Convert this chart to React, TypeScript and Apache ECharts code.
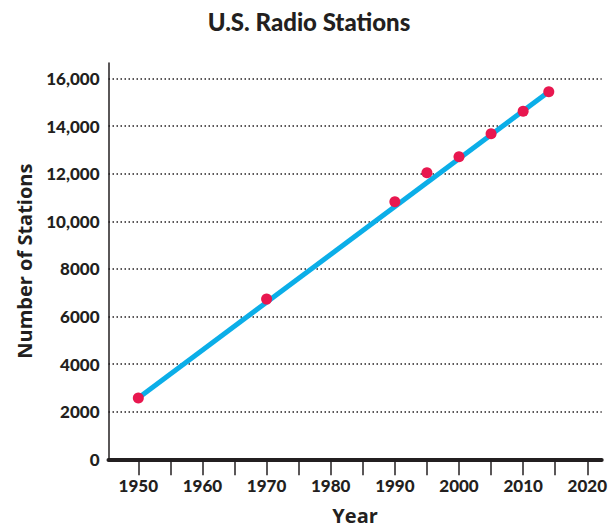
import React, { useEffect, useRef } from "react";
import * as echarts from "echarts";

const years = [1950, 1970, 1990, 1995, 2000, 2005, 2010, 2014];
const stations = [2575, 6730, 10820, 12040, 12710, 13680, 14620, 15440];
const trendYears = [1950, 2014];
const trendValues = [2575, 15440];
const xTickValues = [1950, 1955, 1960, 1965, 1970, 1975, 1980, 1985, 1990, 1995, 2000, 2005, 2010, 2015, 2020];
const xLabelValues = [1950, 1960, 1970, 1980, 1990, 2000, 2010, 2020];

const FONT = "Lato";
const NAME_FONT = "Open Sans";
const INK = "#231F20";

export default function App() {
  const ref = useRef<HTMLDivElement>(null);
  useEffect(() => {
    if (!ref.current) return;
    const chart = echarts.init(ref.current, undefined, { renderer: "svg" });
    chart.setOption({
      animation: false,
      backgroundColor: "#ffffff",
      title: {
        text: "U.S. Radio Stations",
        left: 304,
        textAlign: "center",
        top: 4,
        textStyle: { fontFamily: FONT, fontWeight: 900, fontSize: 24, color: INK },
      },
      grid: { left: 108.5, right: 10.3, top: 63, bottom: 69.7, containLabel: false, outerBoundsMode: "none" },
      xAxis: {
        type: "value",
        min: 1945.35,
        max: 2022.25,
        name: "Year",
        nameLocation: "middle",
        nameGap: 46,
        nameMoveOverlap: false,
        nameTextStyle: { fontFamily: NAME_FONT, fontWeight: 700, fontSize: 20, color: INK },
        axisLine: { show: true, onZero: false, lineStyle: { color: INK, width: 4 } },
        axisTick: { show: true, inside: false, length: 16, customValues: xTickValues, lineStyle: { color: INK, width: 1.5 } },
        axisLabel: {
          customValues: xLabelValues,
          margin: 18,
          fontFamily: FONT,
          fontWeight: 900,
          fontSize: 17,
          color: INK,
          formatter: (v: number) => String(v),
        },
        splitLine: { show: false },
      },
      yAxis: {
        type: "value",
        min: 0,
        max: 16650,
        interval: 2000,
        name: "Number of Stations",
        nameLocation: "middle",
        nameGap: 74,
        nameMoveOverlap: false,
        nameRotate: 90,
        nameTextStyle: { fontFamily: NAME_FONT, fontWeight: 700, fontSize: 20, color: INK },
        axisLine: { show: true, lineStyle: { color: INK, width: 1.5 } },
        axisTick: { show: false },
        axisLabel: {
          margin: 9,
          showMaxLabel: false,
          fontFamily: FONT,
          fontWeight: 900,
          fontSize: 17,
          color: INK,
          formatter: (v: number) => (v >= 10000 ? v.toLocaleString("en-US") : String(v)),
        },
        splitLine: {
          show: true,
          showMinLine: false,
          showMaxLine: false,
          lineStyle: { color: INK, width: 1.5, type: [1.5, 2.5] },
        },
      },
      series: [
        {
          type: "line",
          data: trendYears.map((y, i) => [y, trendValues[i]]),
          showSymbol: false,
          symbol: "none",
          lineStyle: { color: "#0BAEE8", width: 5 },
          z: 2,
        },
        {
          type: "scatter",
          data: years.map((y, i) => [y, stations[i]]),
          symbolSize: 11,
          itemStyle: { color: "#E8174F", opacity: 1 },
          z: 3,
        },
      ],
    });
    return () => chart.dispose();
  }, []);
  return <div ref={ref} style={{ position: "fixed", left: 0, top: 0, width: 612, height: 529 }} />;
}
